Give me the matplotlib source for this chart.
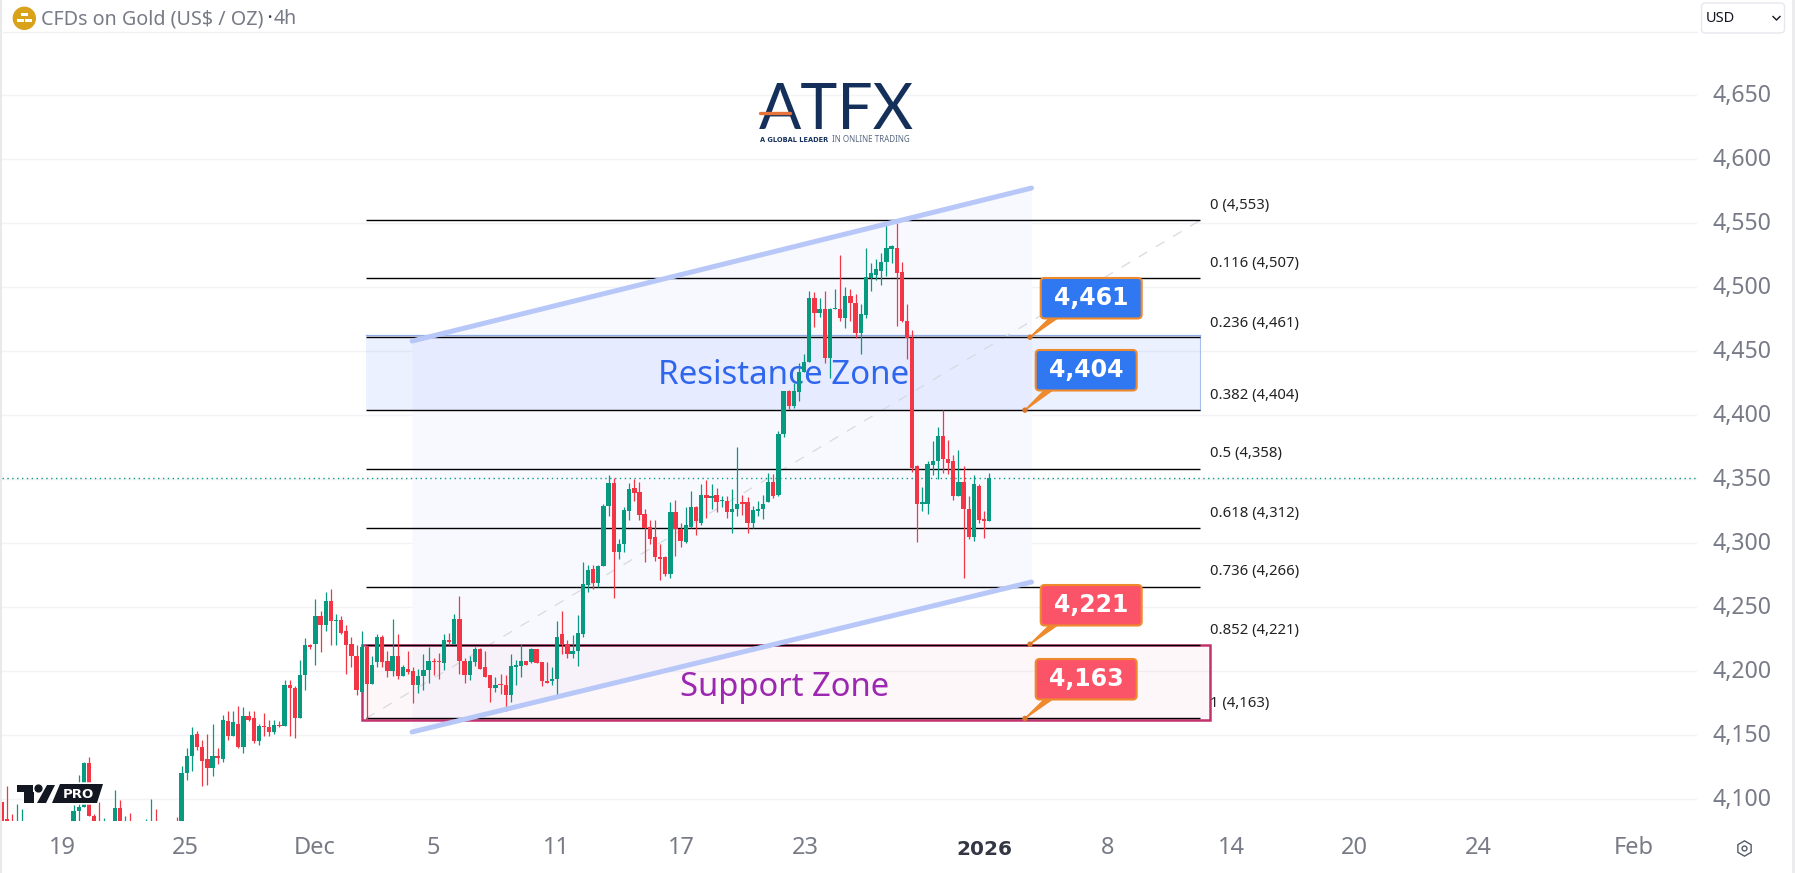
#!/usr/bin/env python3

import matplotlib
matplotlib.use('Agg')
import matplotlib.pyplot as plt
import numpy as np
from matplotlib.patches import Circle, FancyBboxPatch, Polygon, Rectangle
from matplotlib.transforms import Affine2D

W, H = 1795, 873
plt.rcParams['font.family'] = ['Noto Sans', 'DejaVu Sans']

# 4h candles, left to right
opens = [4098,4084,4080,4070,4072,4070,4074,4068,4072,4066,
         4070,4064,4068,4073,4070,4091,4094,4128,4087,4082,
         4078,4076,4075,4093,4070,4080,4075,4078,4072,4070,
         4078,4072,4076,4074,4078,4075,4120,4134,4151,4141,
         4131,4124,4134,4131,4161,4149,4159,4141,4165,4163,
         4145,4157,4156,4152,4158,4157,4189,4187,4163,4197,
         4220,4221,4243,4236,4255,4239,4240,4231,4221,4212,
         4184,4219,4190,4207,4227,4208,4200,4212,4196,4202,
         4200,4189,4196,4201,4208,4208,4206,4224,4221,4241,
         4208,4197,4207,4217,4203,4197,4187,4190,4189,4181,
         4203,4204,4208,4207,4217,4207,4192,4192,4194,4229,
         4221,4213,4216,4229,4267,4280,4269,4282,4329,4347,
         4293,4299,4325,4343,4340,4323,4313,4305,4289,4289,
         4276,4324,4311,4301,4313,4328,4316,4338,4335,4338,
         4333,4333,4324,4327,4332,4332,4316,4325,4327,4332,
         4348,4338,4385,4419,4407,4418,4434,4442,4492,4480,
         4483,4445,4483,4483,4476,4493,4488,4464,4478,4507,
         4510,4513,4520,4530,4531,4512,4474,4460,4360,4331,
         4331,4361,4364,4384,4366,4364,4337,4348,4327,4305,
         4345,4319,4317]
highs = [4098,4110,4088,4096,4092,4078,4080,4076,4081,4075,
         4079,4074,4080,4082,4095,4119,4129,4133,4088,4098,
         4085,4081,4107,4099,4087,4089,4081,4082,4084,4100,
         4092,4080,4082,4081,4086,4126,4140,4156,4153,4146,
         4151,4159,4140,4166,4169,4169,4173,4172,4169,4169,
         4159,4167,4162,4162,4161,4193,4193,4188,4209,4226,
         4221,4256,4247,4262,4264,4245,4243,4236,4227,4220,
         4231,4220,4212,4229,4228,4216,4241,4229,4205,4216,
         4203,4202,4213,4219,4210,4214,4229,4230,4245,4259,
         4210,4212,4219,4218,4216,4197,4195,4198,4197,4213,
         4209,4221,4208,4218,4217,4207,4207,4203,4239,4247,
         4224,4228,4244,4285,4283,4283,4283,4331,4353,4351,
         4303,4328,4347,4350,4348,4327,4318,4318,4299,4290,
         4332,4334,4316,4328,4341,4329,4346,4349,4346,4343,
         4337,4337,4342,4375,4338,4336,4329,4333,4338,4355,
         4354,4388,4419,4420,4425,4441,4448,4497,4496,4492,
         4497,4484,4499,4525,4500,4499,4495,4487,4531,4519,
         4522,4527,4549,4533,4550,4520,4487,4467,4361,4344,
         4364,4380,4391,4404,4381,4369,4373,4360,4337,4353,
         4346,4325,4355]
lows = [4070,4072,4070,4065,4068,4062,4066,4060,4064,4058,
        4062,4056,4060,4066,4065,4083,4094,4087,4075,4074,
        4075,4072,4070,4072,4065,4070,4068,4070,4068,4065,
        4068,4066,4070,4068,4072,4072,4115,4122,4138,4110,
        4111,4118,4127,4129,4146,4149,4140,4136,4161,4144,
        4142,4149,4149,4151,4156,4157,4149,4148,4163,4185,
        4217,4205,4215,4231,4220,4220,4229,4198,4203,4181,
        4184,4162,4190,4203,4203,4195,4196,4194,4196,4198,
        4175,4183,4185,4191,4197,4194,4201,4220,4221,4198,
        4191,4193,4204,4202,4195,4176,4184,4182,4169,4176,
        4189,4195,4205,4206,4206,4188,4191,4189,4181,4213,
        4210,4210,4204,4227,4262,4264,4266,4282,4321,4257,
        4288,4293,4318,4333,4318,4285,4299,4286,4271,4274,
        4273,4290,4297,4300,4312,4306,4314,4320,4327,4324,
        4328,4320,4308,4321,4322,4308,4312,4321,4319,4332,
        4335,4337,4383,4405,4406,4411,4434,4442,4469,4477,
        4441,4429,4483,4474,4468,4474,4460,4448,4476,4497,
        4506,4502,4509,4519,4470,4473,4444,4356,4301,4325,
        4323,4353,4350,4355,4354,4334,4337,4273,4303,4302,
        4316,4304,4317]
closes = [4075,4076,4075,4075,4076,4074,4068,4072,4066,4070,
          4064,4068,4073,4070,4091,4094,4128,4087,4080,4078,
          4081,4079,4093,4075,4076,4075,4078,4072,4079,4078,
          4072,4076,4074,4078,4075,4120,4134,4150,4141,4130,
          4124,4134,4132,4162,4149,4160,4141,4165,4162,4145,
          4157,4156,4152,4158,4157,4189,4187,4163,4197,4220,
          4219,4243,4236,4255,4239,4240,4230,4220,4212,4185,
          4219,4190,4205,4227,4207,4200,4212,4196,4203,4199,
          4189,4196,4201,4208,4207,4207,4224,4223,4241,4208,
          4197,4208,4217,4202,4195,4187,4189,4189,4181,4204,
          4205,4208,4205,4217,4206,4192,4191,4194,4227,4221,
          4213,4216,4230,4268,4279,4269,4282,4329,4347,4293,
          4299,4326,4342,4339,4322,4312,4303,4289,4288,4276,
          4324,4311,4302,4314,4328,4317,4338,4335,4337,4332,
          4334,4324,4327,4331,4331,4316,4326,4327,4331,4348,
          4337,4385,4419,4407,4419,4434,4442,4492,4480,4483,
          4445,4483,4484,4476,4493,4488,4464,4479,4508,4511,
          4514,4520,4531,4532,4511,4474,4460,4359,4331,4332,
          4362,4364,4384,4366,4363,4337,4348,4327,4305,4346,
          4318,4317,4351]

price_ticks = [4100, 4150, 4200, 4250, 4300, 4350, 4400, 4450, 4500, 4550, 4600, 4650]
date_labels = ['19', '25', 'Dec', '5', '11', '17', '23', '2026', '8', '14', '20', '24', 'Feb']
date_bars = [11.9, 35.7, 60.9, 83.9, 107.8, 132.1, 156.2, 191.1, 214.9, 239.0, 262.9, 287.0, 317.3]

fib_prices = [4552.3, 4507, 4461.2, 4404, 4357.8, 4311.6, 4266, 4220.5, 4163]
fib_labels = ['0 (4,553)', '0.116 (4,507)', '0.236 (4,461)', '0.382 (4,404)', '0.5 (4,358)',
              '0.618 (4,312)', '0.736 (4,266)', '0.852 (4,221)', '1 (4,163)']
fib_label_y = [205, 263.5, 323.5, 396, 454, 513, 572, 630.5, 703]

channel_bars = [79.8, 200.2]
channel_top = [4458, 4577.6]
channel_bottom = [4152.4, 4269.6]
resistance_zone = [4403.8, 4462.7]
support_zone = [4161.7, 4220.6]
callout_values = ['4,461', '4,404', '4,221', '4,163']
callout_prices = [4461, 4404, 4221, 4163]

BAR_X0, BAR_STEP = 1.6, (989.3 - 1.6) / 192
GREEN, RED = '#089981', '#f23645'
GRAY = '#787b86'


def bar_at(x_px):
    return (x_px - BAR_X0) / BAR_STEP


fig = plt.figure(figsize=(W / 100, H / 100), dpi=100)
ax = fig.add_axes([2 / W, (H - 821) / H, 1695 / W, 789 / H])
ax.set_xlim(bar_at(2), bar_at(1697))
ax.set_ylim(4082.8, 4699.6)
for s in ax.spines.values():
    s.set_visible(False)

# pixel coords, origin top left
px = Affine2D().scale(1, -1).translate(0, H)

ax.yaxis.tick_right()
ax.set_yticks(price_ticks, [f'{p:,}' for p in price_ticks])
ax.set_xticks(date_bars, date_labels)
ax.tick_params(axis='y', length=0, pad=11.5, labelsize=16.6, labelcolor=GRAY)
ax.tick_params(axis='x', length=0, pad=11, labelsize=17, labelcolor=GRAY)
for lab in ax.get_yticklabels():
    lab.set_transform(lab.get_transform() + Affine2D().translate(0, 2))
year_label = ax.get_xticklabels()[date_labels.index('2026')]
year_label.set_fontweight('bold')
year_label.set_family('DejaVu Sans')
year_label.set_fontsize(14.5)
year_label.set_color('#333744')
year_label.set_transform(year_label.get_transform() + Affine2D().translate(0, -4))
ax.grid(axis='y', color='#f2f3f6', lw=1, zorder=0)
ax.set_axisbelow(True)

# channel shading and its edges
ax.fill_between(channel_bars, channel_bottom, channel_top, color='#f8f9ff', lw=0, zorder=1)
ax.plot(channel_bars, channel_top, color='#b7c7f8', lw=3.6, solid_capstyle='round', zorder=4)
ax.plot(channel_bars, channel_bottom, color='#b7c7f8', lw=3.6, solid_capstyle='round', zorder=4)

# zones
fib_x = [bar_at(366), bar_at(1200)]
ax.add_patch(Rectangle((fib_x[0], resistance_zone[0]), fib_x[1] - fib_x[0],
                       resistance_zone[1] - resistance_zone[0],
                       facecolor='#2962ff', alpha=0.085, lw=0, zorder=1.5))
ax.plot([fib_x[1], fib_x[1]], resistance_zone, color='#a9c0ee', lw=0.8, zorder=1.6)
ax.plot(fib_x, [resistance_zone[1]] * 2, color='#93aee6', lw=0.9, zorder=1.6)
sx = [bar_at(361.6), bar_at(1210)]
ax.add_patch(Rectangle((sx[0], support_zone[0]), sx[1] - sx[0], support_zone[1] - support_zone[0],
                       facecolor='#e91e63', alpha=0.03, edgecolor='none', zorder=1.5))
ax.add_patch(Rectangle((sx[0], support_zone[0]), sx[1] - sx[0], support_zone[1] - support_zone[0],
                       facecolor='none', edgecolor='#c2326f', lw=1.8, zorder=2.5))

ax.text(784, 375.5, 'Resistance Zone', transform=px, color='#2f66ee', fontsize=23.8,
        ha='center', va='center', zorder=2)
ax.text(785, 687.5, 'Support Zone', transform=px, color='#9c27b0', fontsize=23.6,
        ha='center', va='center', zorder=2)

# fib retracement
ax.plot(fib_x, [fib_prices[-1], fib_prices[0]], color='#d8dae0', lw=0.9, ls=(0, (8, 8)), zorder=2)
ax.hlines(fib_prices, fib_x[0], fib_x[1], color='black', lw=1.0, zorder=2.8)
for label, y in zip(fib_labels, fib_label_y):
    ax.text(1210, y, label, transform=px, color='#222222', fontsize=10.7, ha='left', va='center')

# last price
ax.axhline(closes[-1], color=GREEN, lw=1, ls=(0, (1, 2.5)), zorder=2.7)

# candles
o, hi, lo, c = map(np.array, (opens, highs, lows, closes))
k = np.arange(len(o))
colors = np.where(c >= o, GREEN, RED)
ax.vlines(k, lo, hi, colors=colors, lw=0.9, zorder=3)
bottoms = np.minimum(o, c)
heights = np.maximum(np.abs(c - o), 1.0)
ax.bar(k, heights, bottom=bottoms, width=0.84, color=colors, lw=0, zorder=3.1)

# callouts
box_lefts = [1040.7, 1035.7, 1040.7, 1035.7]
box_tops = [278, 350, 585, 659]
box_fills = ['#2f78f2', '#2f78f2', '#fb5468', '#fb5468']
for text, price, left, top, fill in zip(callout_values, callout_prices, box_lefts, box_tops, box_fills):
    ay = H - ax.transData.transform((0, price))[1]
    ax_ = left - 10.7
    tail = Polygon([(left + 9, top + 40), (left + 17, top + 40), (ax_, ay)], closed=True,
                   transform=px, facecolor='#ee8a2c', edgecolor='#ee8a2c', lw=1, zorder=5)
    ax.add_patch(tail)
    ax.add_patch(Circle((ax_, ay), 2, transform=px, color='#d9772a', zorder=5.1))
    ax.add_patch(FancyBboxPatch((left, top), 101, 40.5, boxstyle='round,pad=0,rounding_size=4',
                                transform=px, facecolor=fill, edgecolor='#ee8a2c', lw=1.5, zorder=5.2))
    ax.text(left + 50.5, top + 20, text, transform=px, color='white', fontsize=17,
            family='DejaVu Sans', fontweight='bold', ha='center', va='center', zorder=5.3)

# TV logo
logo_shapes = [
    [(17, 785), (33, 785), (33, 792), (33.5, 792), (33.5, 803), (24, 803), (24, 792), (17, 792)],
    [(47, 785), (55, 785), (46, 803), (37, 803)],
    [(60, 784), (103, 784), (97, 803), (52, 803)],
]
for shape in logo_shapes:
    ax.add_patch(Polygon(shape, closed=True, transform=px, facecolor='#131722',
                         edgecolor='white', lw=2.5, zorder=6))
    ax.add_patch(Polygon(shape, closed=True, transform=px, facecolor='#131722', lw=0, zorder=6.1))
ax.add_patch(Circle((38.5, 788.5), 3.4, transform=px, color='#131722', zorder=6.1))
ax.text(78, 794, 'PRO', transform=px, color='white', fontsize=9.5, family='DejaVu Sans',
        fontweight='bold', ha='center', va='center', zorder=6.2)

# ATFX logo
ax.text(836, 111, 'ATFX', transform=px, color='#14305a', fontsize=45, family='Lato',
        ha='center', va='center', zorder=2)
ax.plot([760, 790], [112.7, 112.7], transform=px, color='#e8743b', lw=2.4,
        solid_capstyle='round', zorder=2.1)
ax.text(760, 139.5, 'A GLOBAL LEADER', transform=px, color='#14305a', fontsize=4.8,
        family='DejaVu Sans', fontweight='bold', ha='left', va='center', zorder=2)
ax.text(910, 139.5, 'IN ONLINE TRADING', transform=px, color='#5a6a80', fontsize=5.8,
        ha='right', va='center', zorder=2)

# header
ax.add_patch(Circle((24.3, 18.3), 11, transform=px, color='#d9a21b', clip_on=False, zorder=7))
for rect in [(21, 13, 6.5, 3), (16.5, 18.5, 7, 3.5), (25, 18.5, 7, 3.5)]:
    ax.add_patch(Rectangle(rect[:2], rect[2], rect[3], transform=px, color='white', lw=0,
                           clip_on=False, zorder=7.1))
ax.text(41, 19, 'CFDs on Gold (US$ / OZ)', transform=px, color=GRAY, fontsize=14.2,
        ha='left', va='center', clip_on=False)
ax.text(269, 19, '•', transform=px, color='#333744', fontsize=8, ha='center', va='center', clip_on=False)
ax.text(297, 19, '4h', transform=px, color=GRAY, fontsize=14, ha='right', va='center', clip_on=False)
ax.plot([3, 1697], [31.5, 31.5], transform=px, color='#f0f1f4', lw=1, clip_on=False)

# currency box
ax.add_patch(FancyBboxPatch((1701.5, 3), 83, 30, boxstyle='round,pad=0,rounding_size=4',
                            transform=px, facecolor='white', edgecolor='#e6e8ee', lw=1,
                            clip_on=False, zorder=7))
ax.text(1706, 18.5, 'USD', transform=px, color='#131722', fontsize=10.5, ha='left', va='center',
        clip_on=False, zorder=7.1)
ax.plot([1773, 1776.5, 1780], [16.5, 20, 16.5], transform=px, color='#131722', lw=1,
        clip_on=False, zorder=7.1)

# settings icon under the price scale
ax.plot([1744], [848], transform=px, marker='h', ms=11, mfc='white', mec='#555a66', mew=1,
        clip_on=False)
ax.plot([1744], [848], transform=px, marker='o', ms=3.5, mfc='white', mec='#555a66', mew=1,
        clip_on=False)

# window edges
fig.add_artist(Rectangle((0, 0), 2 / W, 1, transform=fig.transFigure, color='#e9e9eb', lw=0))
fig.add_artist(Rectangle((1791.5 / W, 0), 3.5 / W, 1, transform=fig.transFigure, color='#ececee', lw=0))

fig.savefig('out.png', dpi=100)
